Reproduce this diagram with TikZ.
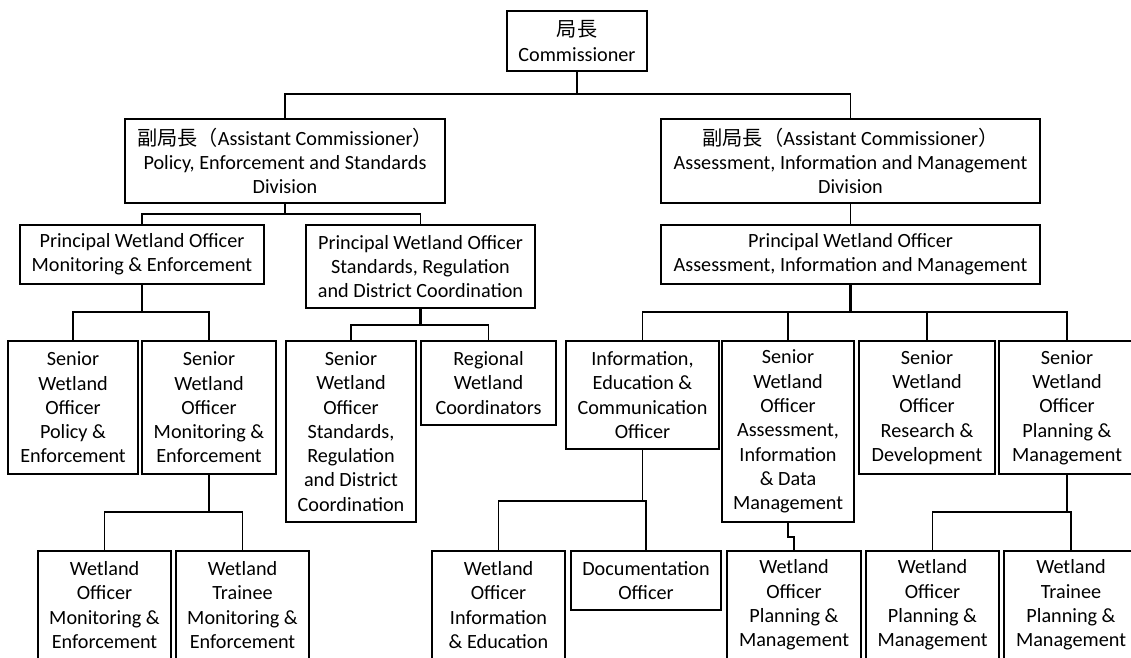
\documentclass[tikz,border=0pt]{standalone}
\usepackage{fontspec}
\setmainfont{Carlito}
\newfontfamily\cjk{Noto Sans CJK JP}
\begin{document}
\begin{tikzpicture}[x=1pt,y=-1pt,
  box/.style={draw, line width=1.5pt, inner sep=0pt, align=center,
    font=\fontsize{20.2}{24.3}\selectfont},
  link/.style={line width=1.6pt},
  stem/.style={line width=2.4pt}]
\useasboundingbox (0,0) rectangle (1131,657);
\fill[white] (0,0) rectangle (1131,657);
\begin{scope}
\clip (0,0) rectangle (1131,657);
% top level
\node[box, minimum width=140pt, minimum height=60pt] (comm) at (577,41) {{\cjk 局長}\\Commissioner};
% divisions
\node[box, minimum width=320pt, minimum height=84pt] (ac1) at (285,161)
  {{\cjk 副局長（}Assistant Commissioner{\cjk ）}\\Policy, Enforcement and Standards\\Division};
\node[box, minimum width=379pt, minimum height=84pt] (ac2) at (850.5,161)
  {{\cjk 副局長（}Assistant Commissioner{\cjk ）}\\Assessment, Information and Management\\Division};
% principal officers
\node[box, minimum width=244pt, minimum height=59pt] (pwo1) at (142,254.5)
  {Principal Wetland Officer\\Monitoring \& Enforcement};
\node[box, minimum width=229pt, minimum height=83pt] (pwo2) at (420.5,266.5)
  {Principal Wetland Officer\\Standards, Regulation\\and District Coordination};
\node[box, minimum width=379pt, minimum height=59pt] (pwo3) at (850.5,254.5)
  {Principal Wetland Officer\\Assessment, Information and Management};
% senior officers
\node[box, minimum width=130pt, minimum height=133pt] (s1) at (73,407.5)
  {Senior\\Wetland\\Officer\\Policy \&\\Enforcement};
\node[box, minimum width=134pt, minimum height=133pt] (s2) at (209,407.5)
  {Senior\\Wetland\\Officer\\Monitoring \&\\Enforcement};
\node[box, minimum width=130pt, minimum height=181pt] (s3) at (351,431.5)
  {Senior\\Wetland\\Officer\\Standards,\\Regulation\\and District\\Coordination};
\node[box, minimum width=135pt, minimum height=84pt] (reg) at (488.5,383)
  {Regional\\Wetland\\Coordinators};
\node[box, minimum width=153pt, minimum height=108pt] (iec) at (642.5,395)
  {Information,\\Education \&\\Communication\\Officer};
\node[box, minimum width=132pt, minimum height=181pt] (aidm) at (788,431.5)
  {Senior\\Wetland\\Officer\\Assessment,\\Information\\\& Data\\Management};
\node[box, minimum width=136pt, minimum height=133pt] (rd) at (927,407.5)
  {Senior\\Wetland\\Officer\\Research \&\\Development};
\node[box, minimum width=136pt, minimum height=133pt] (spm) at (1067,407.5)
  {Senior\\Wetland\\Officer\\Planning \&\\Management};
% officers and trainees
\node[box, minimum width=133pt, minimum height=108pt] (wo1) at (104.5,605)
  {Wetland\\Officer\\Monitoring \&\\Enforcement};
\node[box, minimum width=133pt, minimum height=108pt] (wt1) at (242.5,605)
  {Wetland\\Trainee\\Monitoring \&\\Enforcement};
\node[box, minimum width=133pt, minimum height=108pt] (woie) at (498.5,605)
  {Wetland\\Officer\\Information\\\& Education};
\node[box, minimum width=150pt, minimum height=59pt] (doc) at (646,580.5)
  {Documentation\\Officer};
\node[box, minimum width=134pt, minimum height=108pt] (wopm1) at (794,605)
  {Wetland\\Officer\\Planning \&\\Management};
\node[box, minimum width=133pt, minimum height=108pt] (wopm2) at (932.5,605)
  {Wetland\\Officer\\Planning \&\\Management};
\node[box, minimum width=134pt, minimum height=108pt] (wtpm) at (1071,605)
  {Wetland\\Trainee\\Planning \&\\Management};
% connector junctions
\coordinate (j0) at (577,94);
\coordinate (j1) at (285,214);
\coordinate (j2) at (142,312);
\coordinate (j3) at (420.5,325);
\coordinate (j4) at (850.5,312);
\coordinate (j5) at (209,512);
\coordinate (j6) at (642.5,501);
\coordinate (j7) at (788,537);
\coordinate (j8) at (1067,512);
% connectors
\draw[stem] (comm.south) -- (j0);
\draw[link] (ac1.north) |- (j0) -| (ac2.north);
\draw[link] (ac1.south) -- (j1);
\draw[link] (pwo1.north) |- (j1) -| (pwo2.north);
\draw[link] (ac2.south) -- (pwo3.north);
\draw[stem] (pwo1.south) -- (j2);
\draw[link] (s1.north) |- (j2) -| (s2.north);
\draw[stem] (pwo2.south) -- (j3);
\draw[link] (s3.north) |- (j3) -| (reg.north);
\draw[stem] (pwo3.south) -- (j4);
\draw[link] (iec.north) |- (j4) -| (spm.north);
\draw[link] (aidm.north) -- (aidm.north |- j4);
\draw[link] (rd.north) -- (rd.north |- j4);
\draw[stem] (s2.south) -- (j5);
\draw[link] (wo1.north) |- (j5) -| (wt1.north);
\draw[link] (iec.south) -- (j6);
\draw[link] (woie.north) |- (j6) -| (doc.north);
\draw[link] (aidm.south) -- (j7) -| (wopm1.north);
\draw[stem] (spm.south) -- (j8);
\draw[link] (wopm2.north) |- (j8) -| (wtpm.north);
\end{scope}
\end{tikzpicture}
\end{document}
